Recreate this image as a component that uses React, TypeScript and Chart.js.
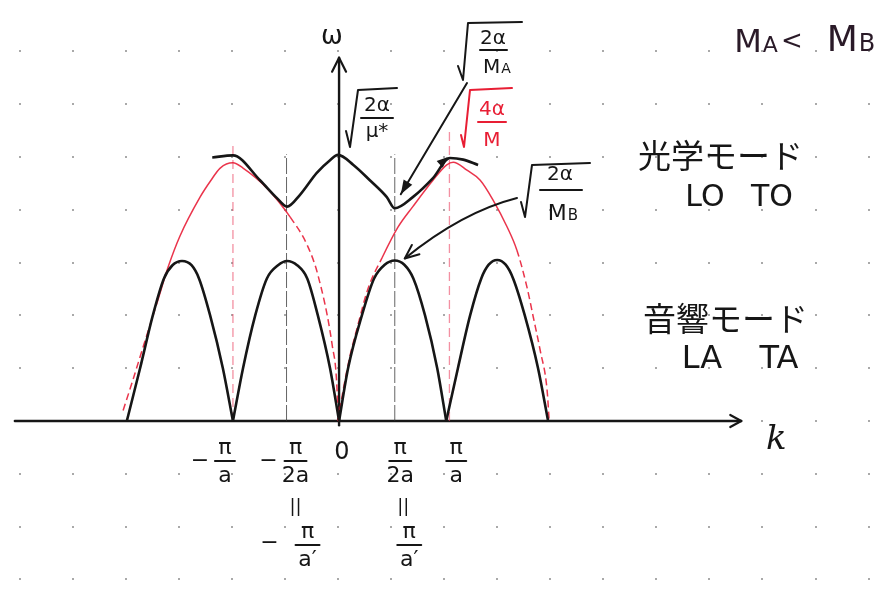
import { useEffect, useRef } from 'react';
import { Chart, registerables } from 'chart.js';

Chart.register(...registerables);

type Pt = [number, number];

// k measured in units of π/2a (one grid step), ω in grid steps
const acousticArch1: Pt[] = [[-3.98, 0], [-3.73, 1.0], [-3.49, 2.0], [-3.28, 2.7], [-3.12, 2.95], [-2.94, 3.03], [-2.76, 2.95], [-2.62, 2.7], [-2.41, 2.0], [-2.17, 1.0], [-1.98, 0]];
const acousticArch2: Pt[] = [[-1.98, 0], [-1.79, 1.0], [-1.56, 2.0], [-1.34, 2.7], [-1.13, 2.95], [-0.96, 3.03], [-0.77, 2.95], [-0.58, 2.7], [-0.38, 2.0], [-0.15, 1.0], [0.02, 0]];
const acousticArch3: Pt[] = [[0.02, 0], [0.19, 1.0], [0.45, 2.0], [0.68, 2.7], [0.88, 2.96], [1.07, 3.04], [1.25, 2.96], [1.42, 2.7], [1.64, 2.0], [1.87, 1.0], [2.04, 0]];
const acousticArch4: Pt[] = [[2.04, 0], [2.26, 1.0], [2.49, 2.0], [2.7, 2.7], [2.84, 2.96], [3.0, 3.05], [3.16, 2.96], [3.3, 2.7], [3.52, 2.0], [3.77, 1.0], [3.96, 0]];

const opticalBranch: Pt[] = [
  [-2.37, 4.99], [-1.98, 5.03], [-1.47, 4.56], [-1.15, 4.22], [-0.96, 4.06],
  [-0.72, 4.28], [-0.40, 4.7], [-0.15, 4.94], [0, 5.04], [0.29, 4.85],
  [0.6, 4.56], [0.92, 4.24], [1.07, 4.03], [1.41, 4.24], [1.79, 4.6],
  [2.11, 4.98], [2.36, 4.95], [2.64, 4.85],
];

// single-atom chain, drawn in red
const monatomicLeft: Pt[] = [
  [-4.05, 0.2], [-3.88, 0.73], [-3.67, 1.41], [-3.41, 2.24], [-3.2, 2.92],
  [-2.98, 3.5], [-2.6, 4.24], [-2.4, 4.55], [-2.22, 4.79], [-1.98, 4.89],
  [-1.79, 4.79], [-1.34, 4.41], [-0.9, 3.86], [-0.58, 3.33], [-0.38, 2.77],
  [-0.11, 1.44], [-0.02, 0.63], [0, 0],
];
const monatomicRight: Pt[] = [
  [0, 0], [0.1, 0.6], [0.23, 1.25], [0.36, 1.76], [0.57, 2.52], [0.83, 3.09],
  [1.13, 3.67], [1.41, 4.06], [1.79, 4.56], [2.05, 4.85], [2.17, 4.9],
  [2.43, 4.75], [2.68, 4.56], [2.92, 4.19], [3.19, 3.67], [3.37, 3.24],
  [3.56, 2.54], [3.68, 1.97], [3.81, 1.34], [3.94, 0.59], [3.98, 0],
];

// zone boundaries ±π/2a (black) and ±π/a (red)
const halfZoneK = [-0.97, 1.07];
const halfZoneTop = [5.05, 5.05];
const fullZoneK = [-1.98, 2.1];
const fullZoneTop = [5.25, 5.5];

// k-axis tick labels
const kTickAt = [-1.98, -0.97, 0, 1.06, 2.04];
const kTickSign = ['−', '−', '', '', ''];
const kTickNum = ['π', 'π', '0', 'π', 'π'];
const kTickDen = ['a', '2a', '', '2a', 'a'];
const kAltAt = [-0.97, 1.06];
const kAltSign = ['−', ''];
const kAltNum = ['π', 'π'];
const kAltDen = ['a′', 'a′'];

const X_MIN = -6.37;
const X_MAX = 10.403;
const Y_MIN = -3.333;
const Y_MAX = 7.973;

const INK = '#161616';
const RED = 'rgb(232,30,52)';
const LATIN = '"DejaVu Sans", sans-serif';
const CJK = '"Noto Sans CJK JP", sans-serif';

const toXY = (pts: Pt[]) => pts.map(([x, y]) => ({ x, y }));

function text(ctx: any, s: string, x: number, y: number, font: string, color = INK, align = 'center') {
  ctx.font = font;
  ctx.fillStyle = color;
  ctx.textAlign = align;
  ctx.textBaseline = 'middle';
  ctx.fillText(s, x, y);
}

function poly(ctx: any, pts: Pt[], color = INK, width = 2) {
  ctx.beginPath();
  ctx.strokeStyle = color;
  ctx.lineWidth = width;
  pts.forEach(([x, y], i) => (i ? ctx.lineTo(x, y) : ctx.moveTo(x, y)));
  ctx.stroke();
}

function fraction(ctx: any, cx: number, barY: number, num: string, den: string, barW: number, size: number, color = INK) {
  text(ctx, num, cx, barY - size * 0.6, `${size}px ${LATIN}`, color);
  poly(ctx, [[cx - barW / 2, barY], [cx + barW / 2, barY]], color, 2);
  text(ctx, den, cx, barY + size * 0.68, `${size}px ${LATIN}`, color);
}

// capital letter followed by a smaller one on the same baseline (M_A, M_B)
function massLabel(ctx: any, cx: number, cy: number, sub: string, big: number, small: number, color = INK) {
  ctx.font = `${big}px ${LATIN}`;
  const wBig = ctx.measureText('M').width;
  ctx.font = `${small}px ${LATIN}`;
  const wSmall = ctx.measureText(sub).width;
  const left = cx - (wBig + wSmall + 1) / 2;
  ctx.fillStyle = color;
  ctx.textAlign = 'left';
  ctx.textBaseline = 'alphabetic';
  const base = cy + big * 0.36;
  ctx.font = `${big}px ${LATIN}`;
  ctx.fillText('M', left, base);
  ctx.font = `${small}px ${LATIN}`;
  ctx.fillText(sub, left + wBig + 1, base);
}

function arrowHead(ctx: any, tip: Pt, from: Pt, len: number, half: number, filled: boolean, color = INK) {
  const dx = tip[0] - from[0];
  const dy = tip[1] - from[1];
  const d = Math.hypot(dx, dy) || 1;
  const ux = dx / d, uy = dy / d;
  const bx = tip[0] - ux * len, by = tip[1] - uy * len;
  const a: Pt = [bx - uy * half, by + ux * half];
  const b: Pt = [bx + uy * half, by - ux * half];
  if (filled) {
    ctx.beginPath();
    ctx.fillStyle = color;
    ctx.moveTo(tip[0], tip[1]);
    ctx.lineTo(a[0], a[1]);
    ctx.lineTo(b[0], b[1]);
    ctx.closePath();
    ctx.fill();
  } else {
    poly(ctx, [a, tip, b], color, 2);
  }
}

const sketchPlugin = {
  id: 'sketch',
  beforeDatasetsDraw(chart: any) {
    const { ctx, scales } = chart;
    const xs = scales.x, ys = scales.y;
    ctx.save();
    // dotted notebook grid
    ctx.fillStyle = '#a9a9a9';
    for (let i = Math.ceil(X_MIN); i <= Math.floor(X_MAX); i++) {
      for (let j = Math.ceil(Y_MIN); j <= Math.floor(Y_MAX); j++) {
        const px = xs.getPixelForValue(i), py = ys.getPixelForValue(j);
        ctx.fillRect(Math.round(px) - 1, Math.round(py) - 1, 2, 2);
      }
    }
    ctx.lineCap = 'round';
    ctx.lineJoin = 'round';
    // k axis
    const y0 = ys.getPixelForValue(0);
    const kStart = xs.getPixelForValue(-6.09);
    const kEnd = xs.getPixelForValue(7.6);
    poly(ctx, [[kStart, y0], [kEnd, y0]], INK, 2.4);
    poly(ctx, [[kEnd - 11, y0 - 6], [kEnd, y0], [kEnd - 11, y0 + 6]], INK, 2.2);
    // ω axis
    const x0 = xs.getPixelForValue(0.02);
    const wTop = ys.getPixelForValue(6.88);
    poly(ctx, [[x0, ys.getPixelForValue(-0.08)], [x0, wTop]], INK, 2.4);
    poly(ctx, [[x0 - 7, wTop + 14], [x0, wTop], [x0 + 7, wTop + 14]], INK, 2.2);
    ctx.restore();
  },
  afterDatasetsDraw(chart: any) {
    const { ctx, scales } = chart;
    const xs = scales.x, ys = scales.y;
    ctx.save();
    ctx.lineCap = 'round';
    ctx.lineJoin = 'round';

    // axis names
    text(ctx, 'ω', xs.getPixelForValue(0) - 6, 37, `26px ${LATIN}`);
    text(ctx, 'k', xs.getPixelForValue(7.6) + 35, 440, `italic 34px "DejaVu Serif", serif`);

    // k-axis tick labels
    const numDx = [-8, 9, 4, 6, 10];
    const signDx = [-25, -27, 0, 0, 0];
    const barW = [20, 22, 0, 22, 20];
    kTickAt.forEach((k, i) => {
      const cx = xs.getPixelForValue(k) + numDx[i];
      if (kTickDen[i]) {
        fraction(ctx, cx, 461, kTickNum[i], kTickDen[i], barW[i], 22);
      } else {
        text(ctx, kTickNum[i], cx, 453, `24px ${LATIN}`);
      }
      if (kTickSign[i]) text(ctx, kTickSign[i], cx + signDx[i], 461, `22px ${LATIN}`);
    });
    const altDx = [21, 15];
    kAltAt.forEach((k, i) => {
      const tx = xs.getPixelForValue(k);
      text(ctx, '||', tx + 9, 507, `18px ${LATIN}`);
      const cx = tx + altDx[i];
      fraction(ctx, cx, 545, kAltNum[i], kAltDen[i], 24, 22);
      if (kAltSign[i]) text(ctx, kAltSign[i], cx - 38, 543, `22px ${LATIN}`);
    });

    // √(2α/μ*)
    poly(ctx, [[346, 131], [350, 147], [358, 90], [397, 88]], INK, 2);
    fraction(ctx, 377, 118, '2α', 'μ*', 32, 20);
    // √(2α/M_A)
    poly(ctx, [[458, 66], [463, 80], [468, 23], [522, 22]], INK, 2);
    text(ctx, '2α', 493, 39, `20px ${LATIN}`);
    poly(ctx, [[480, 50], [507, 50]], INK, 2);
    massLabel(ctx, 497, 66, 'A', 20, 14);
    // √(4α/M) for the single-atom chain
    poly(ctx, [[461, 135], [464, 147], [470, 90], [512, 88]], RED, 2);
    text(ctx, '4α', 492, 110, `20px ${LATIN}`, RED);
    poly(ctx, [[478, 122], [506, 122]], RED, 2);
    text(ctx, 'M', 492, 141, `20px ${LATIN}`, RED);
    // √(2α/M_B)
    poly(ctx, [[521, 202], [525, 217], [532, 165], [590, 163]], INK, 2);
    text(ctx, '2α', 560, 175, `20px ${LATIN}`);
    poly(ctx, [[540, 190], [582, 190]], INK, 2);
    massLabel(ctx, 563, 212, 'B', 22, 15);

    // pointers from the labels to the curves
    const minTip: Pt = [xs.getPixelForValue(1.07) + 6, ys.getPixelForValue(4.03) - 14];
    poly(ctx, [[467, 83], minTip], INK, 2);
    arrowHead(ctx, minTip, [467, 83], 14, 5, true);

    const peakTip: Pt = [xs.getPixelForValue(1.07) + 10, ys.getPixelForValue(3.04) - 2];
    ctx.beginPath();
    ctx.strokeStyle = INK;
    ctx.lineWidth = 2;
    ctx.moveTo(517, 198);
    ctx.quadraticCurveTo(462, 212, peakTip[0], peakTip[1]);
    ctx.stroke();
    arrowHead(ctx, peakTip, [462, 212], 14, 6, false);

    const redPeak: Pt = [xs.getPixelForValue(2.07), ys.getPixelForValue(5.0)];
    arrowHead(ctx, redPeak, [redPeak[0] - 22, redPeak[1] + 20], 11, 4.5, true);

    // mass relation and mode names
    massLabel(ctx, 756, 40, 'A', 32, 22, '#2a1a28');
    text(ctx, '<', 792, 42, `26px ${LATIN}`, '#2a1a28');
    massLabel(ctx, 851, 38, 'B', 36, 24, '#2a1a28');

    text(ctx, '光学モード', 638, 155, `33px ${CJK}`, INK, 'left');
    text(ctx, 'LO', 705, 198, `30px ${LATIN}`);
    text(ctx, 'TO', 772, 198, `30px ${LATIN}`);
    text(ctx, '音響モード', 643, 318, `33px ${CJK}`, INK, 'left');
    text(ctx, 'LA', 702, 360, `32px ${LATIN}`);
    text(ctx, 'TA', 779, 360, `32px ${LATIN}`);
    ctx.restore();
  },
};

const redDashed = (a: number, b: number) => b <= -3.4 || (a >= -0.92 && b <= 0.85) || a >= 3.2;

export default function App() {
  const canvasRef = useRef<HTMLCanvasElement | null>(null);

  useEffect(() => {
    const canvas = canvasRef.current;
    if (!canvas) return;

    const black = { borderColor: INK, borderWidth: 2.6, cubicInterpolationMode: 'monotone', pointRadius: 0, fill: false };
    const arches = [acousticArch1, acousticArch2, acousticArch3, acousticArch4].map((arch) => ({
      ...black,
      data: toXY(arch),
    }));
    const red = {
      borderColor: 'rgba(232,30,55,0.9)',
      borderWidth: 1.5,
      cubicInterpolationMode: 'monotone',
      pointRadius: 0,
      fill: false,
      segment: {
        borderDash: (c: any) => (redDashed(c.p0.parsed.x, c.p1.parsed.x) ? [7, 4] : undefined),
      },
    };
    const halfZone = halfZoneK.map((k, i) => ({
      borderColor: 'rgba(50,50,50,0.75)',
      borderWidth: 1,
      borderDash: [16, 3],
      pointRadius: 0,
      data: [{ x: k, y: 0 }, { x: k, y: halfZoneTop[i] }],
    }));
    const fullZone = fullZoneK.map((k, i) => ({
      borderColor: 'rgba(235,70,100,0.6)',
      borderWidth: 1.3,
      borderDash: [9, 5],
      pointRadius: 0,
      data: [{ x: k, y: 0 }, { x: k, y: fullZoneTop[i] }],
    }));

    const chart = new Chart(canvas, {
      type: 'line',
      data: {
        datasets: [
          ...arches,
          { ...black, data: toXY(opticalBranch) },
          { ...red, data: toXY(monatomicLeft) },
          { ...red, data: toXY(monatomicRight) },
          ...halfZone,
          ...fullZone,
        ] as any,
      },
      options: {
        animation: false,
        responsive: false,
        events: [],
        layout: { padding: 0 },
        plugins: {
          legend: { display: false },
          tooltip: { enabled: false },
          title: { display: false },
        },
        scales: {
          x: { type: 'linear', display: false, min: X_MIN, max: X_MAX },
          y: { type: 'linear', display: false, min: Y_MIN, max: Y_MAX },
        },
      },
      plugins: [sketchPlugin],
    });

    return () => chart.destroy();
  }, []);

  return (
    <div style={{ position: 'absolute', left: 0, top: 0, width: 890, height: 597, background: '#fff' }}>
      <canvas ref={canvasRef} width={890} height={597} style={{ display: 'block' }} />
    </div>
  );
}
